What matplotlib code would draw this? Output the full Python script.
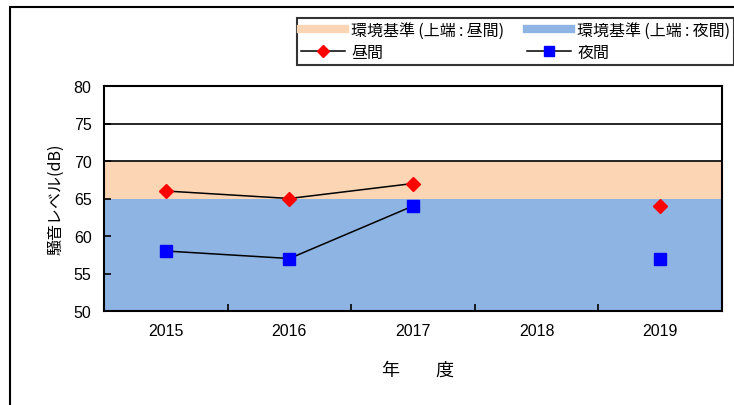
import numpy as np
import matplotlib
matplotlib.use("Agg")
import matplotlib.pyplot as plt
from matplotlib.lines import Line2D
from matplotlib.patches import Rectangle

plt.rcParams['font.family'] = ['Liberation Sans', 'Noto Sans CJK JP', 'DejaVu Sans']
JP = ['Noto Sans CJK JP', 'DejaVu Sans']

years = ['2015', '2016', '2017', '2018', '2019']
day = [66, 65, 67, np.nan, 64]
night = [58, 57, 64, np.nan, 57]
std_day = 70
std_night = 65
yticks = [50, 55, 60, 65, 70, 75, 80]

W, H = 734, 406
fig = plt.figure(figsize=(W/100, H/100), dpi=100)
ax = fig.add_axes([104/W, (H-312)/H, 618/W, 225/H])

x = np.arange(len(years))
ax.set_xlim(-0.5, len(years)-0.5)
ax.set_ylim(50, 80)

peach = '#FCD5B5'
blue = '#8EB4E3'
ax.fill_between([-0.5, len(years)-0.5], 0, std_day, color=peach, zorder=1, lw=0)
ax.fill_between([-0.5, len(years)-0.5], 0, std_night, color=blue, zorder=1.5, lw=0)
for yv in [70, 75]:
    ax.axhline(yv, color='black', lw=1.2, zorder=2)

ax.plot(x, day, color='black', lw=1.1, marker='D', ms=7, mfc='red', mec='red', zorder=3)
ax.plot(x, night, color='black', lw=1.1, marker='s', ms=9, mfc='blue', mec='blue', zorder=3)

ax.set_yticks(yticks)
ax.set_yticklabels([str(v) for v in yticks], fontsize=11.5)
ax.tick_params(axis='y', direction='in', length=5, width=1.2, pad=9)
ax.set_xticks(np.arange(len(years)-1) + 0.5)
ax.set_xticklabels([])
ax.set_xticks(x, minor=True)
ax.set_xticklabels(years, minor=True, fontsize=11.5)
ax.tick_params(axis='x', which='major', direction='in', length=5, width=1.2)
ax.tick_params(axis='x', which='minor', length=0, pad=9)
for s in ax.spines.values():
    s.set_linewidth(1.5)
    s.set_zorder(4)

ax.set_ylabel('騒音レベル(dB)', fontsize=11.5, labelpad=7, family=JP)
ax.set_xlabel('年　　度', fontsize=13, labelpad=16, family=JP)
ax.xaxis.label.set_x(0.5 + 5/618)

T = '\u2009'
handles = [Line2D([], [], color=peach, lw=6),
           Line2D([], [], color='black', lw=1.1, marker='D', ms=6, mfc='red', mec='red'),
           Line2D([], [], color=blue, lw=6),
           Line2D([], [], color='black', lw=1.1, marker='s', ms=7, mfc='blue', mec='blue')]
labels = [f'環境基準{T}(上端{T}:{T}昼間)', '昼間', f'環境基準{T}(上端{T}:{T}夜間)', '夜間']
leg = fig.legend(handles, labels, ncol=2, loc='upper left',
                 bbox_to_anchor=(297/W, 1-19/H),
                 prop={'family': JP, 'size': 11.5},
                 frameon=True, fancybox=False, edgecolor='black',
                 handlelength=2.75, handletextpad=0.4, columnspacing=1.4,
                 labelspacing=0.3, borderpad=0.25, borderaxespad=0)
leg.get_frame().set_linewidth(1.5)

fig.patches.append(Rectangle((10/W, -0.5), 2, 1.5-8/H, transform=fig.transFigure,
                             fill=False, edgecolor='black', lw=1.5))

fig.savefig('out.png', dpi=100)
